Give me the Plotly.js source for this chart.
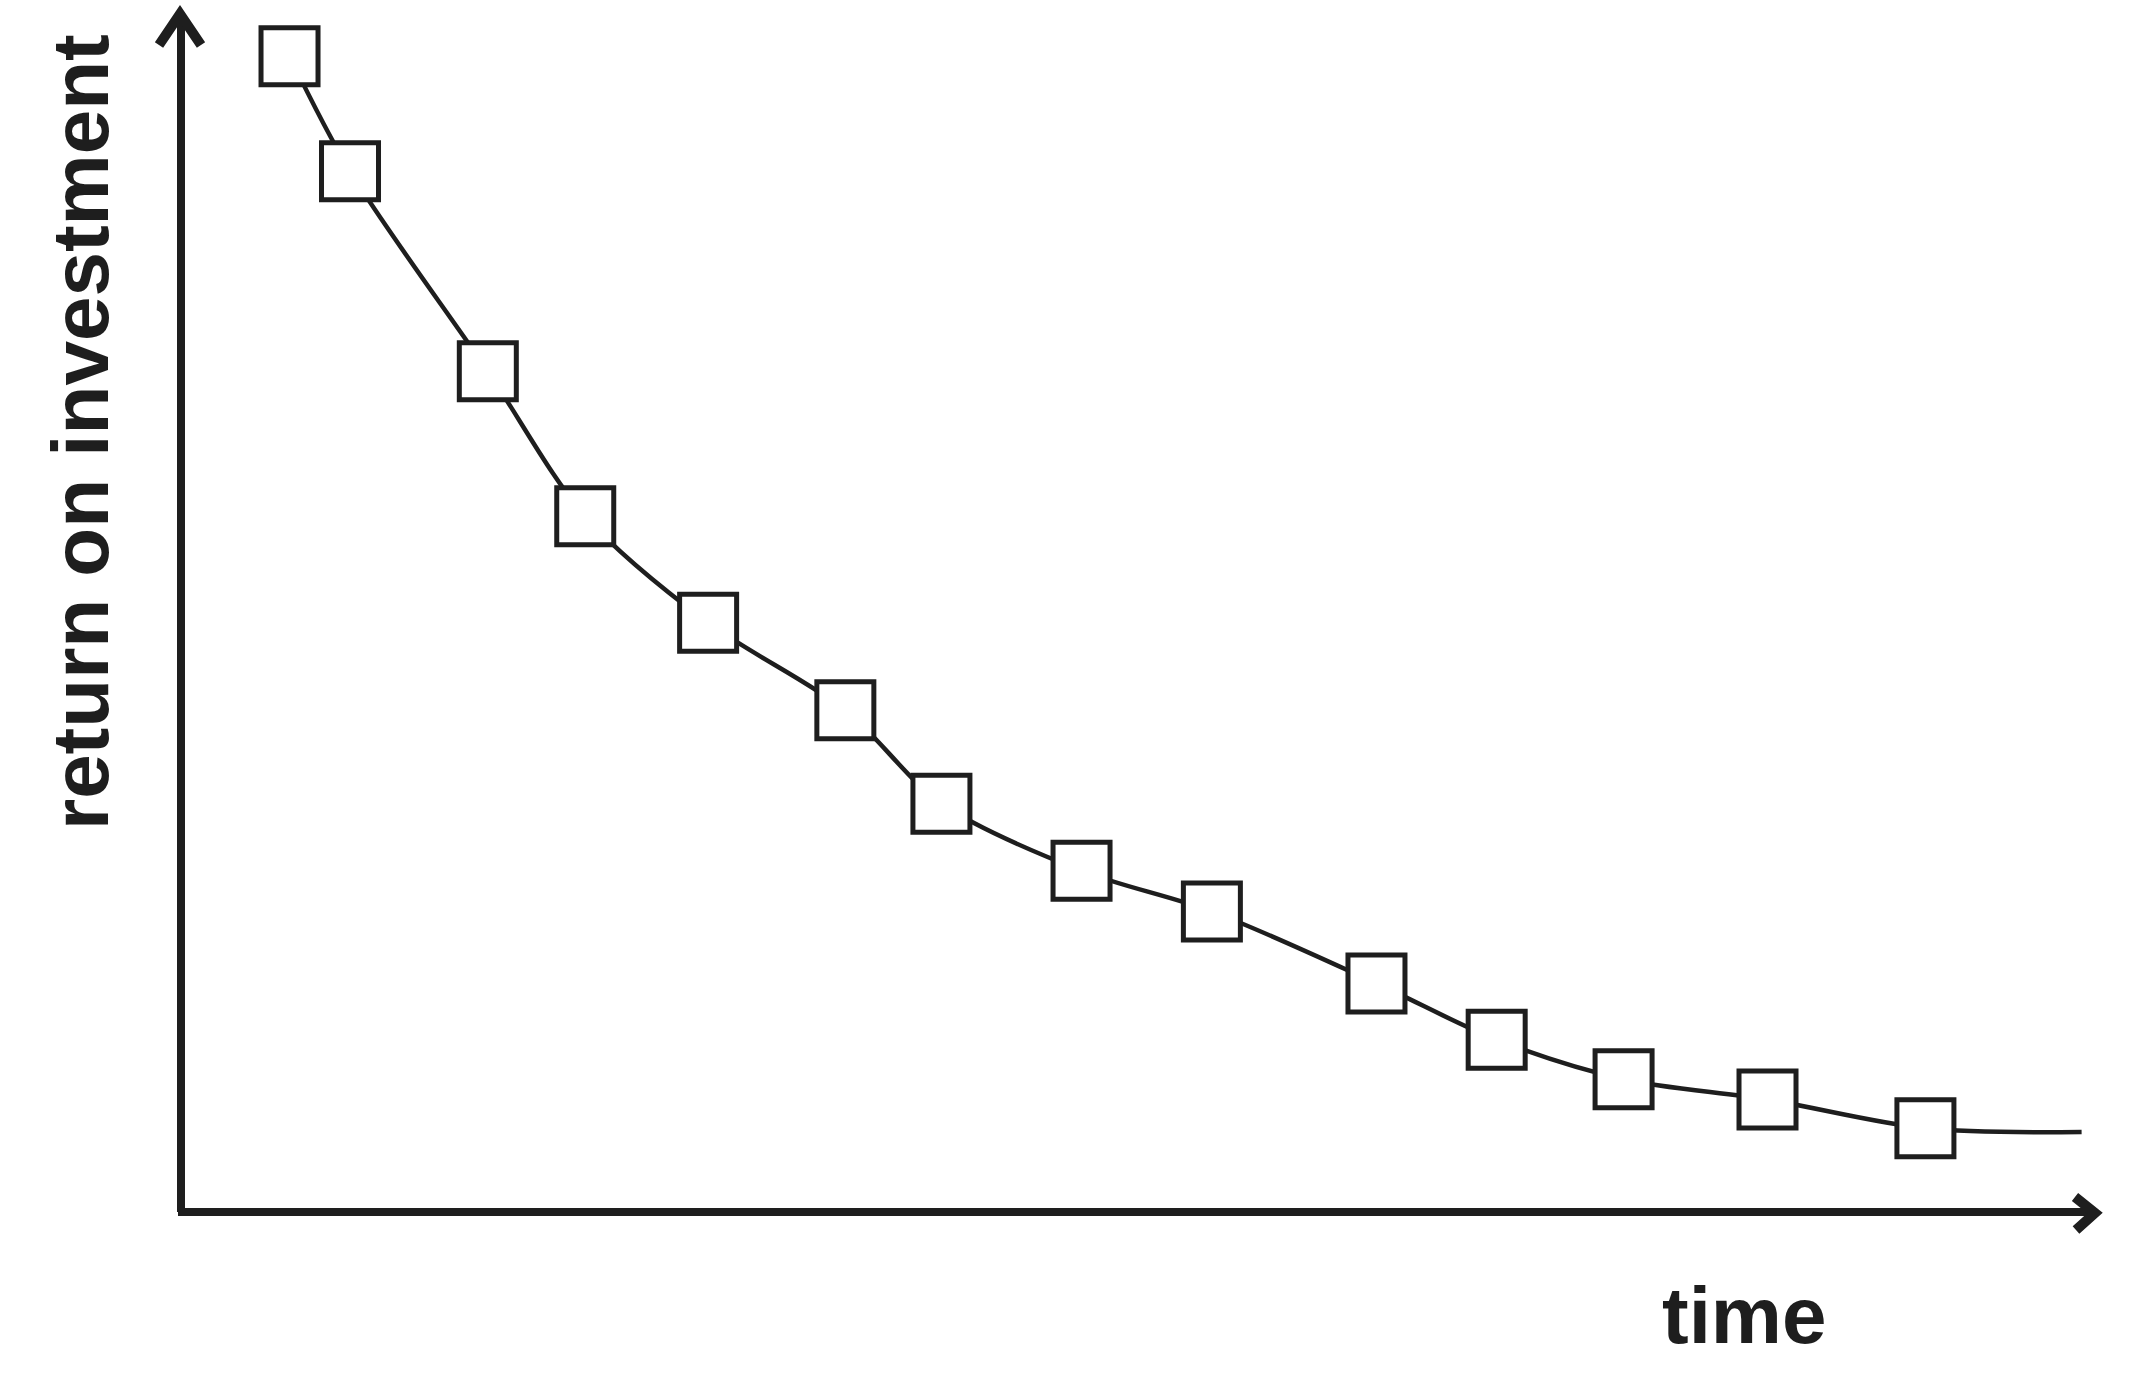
<!DOCTYPE html>
<html>
<head>
<meta charset="utf-8">
<script src="https://cdn.plot.ly/plotly-3.0.1.min.js"></script>
<style>
  html, body { margin: 0; padding: 0; background: #ffffff; }
  #chart { width: 2152px; height: 1373px; }
</style>
</head>
<body>
<div id="chart"></div>
<script>
// ---- data (arbitrary 0-100 units) ----
const time = [5.67, 8.83, 16.03, 21.12, 27.54, 34.71, 39.73, 47.05, 53.86, 62.46, 68.74, 75.37, 82.89, 91.14];
const roi  = [96.4, 86.8, 70.1, 58.0, 49.1, 41.8, 34.0, 28.4, 25.0, 19.0, 14.3, 11.0, 9.3, 6.9];
const curveEndTime = [99.3];
const curveEndRoi  = [6.6];
const xLabel = "time";
const yLabel = "return on investment";

// ---- layout geometry ----
const W = 2152, H = 1373;
const M = { l: 181, r: 57, t: 13, b: 162 };
const PW = W - M.l - M.r, PH = H - M.t - M.b;
const px = v => (v - M.l) / PW;           // pixel x -> paper x
const py = v => (H - M.b - v) / PH;       // pixel y -> paper y

const ink = "#1e1e1e";
const font = { family: "Liberation Sans, Arial, sans-serif", size: 80, color: ink, weight: "bold" };

const curve = {
  x: time.concat(curveEndTime),
  y: roi.concat(curveEndRoi),
  type: "scatter",
  mode: "lines",
  line: { color: ink, width: 4.5, shape: "spline", smoothing: 0.9 },
  hoverinfo: "skip",
  showlegend: false
};
const points = {
  x: time,
  y: roi,
  type: "scatter",
  mode: "markers",
  marker: { symbol: "square", size: 57, color: "#ffffff", line: { color: ink, width: 5 } },
  cliponaxis: false,
  showlegend: false
};

const axisLine = { color: ink, width: 8 };
const layout = {
  width: W, height: H,
  margin: M,
  paper_bgcolor: "#ffffff",
  plot_bgcolor: "#ffffff",
  showlegend: false,
  xaxis: { range: [0, 100], showgrid: false, zeroline: false, showline: false, showticklabels: false, ticks: "", fixedrange: true },
  yaxis: { range: [0, 100], showgrid: false, zeroline: false, showline: false, showticklabels: false, ticks: "", fixedrange: true },
  shapes: [
    // y axis with chevron arrowhead
    { type: "line", xref: "paper", yref: "paper", x0: px(181), y0: py(1212), x1: px(181), y1: py(16), line: axisLine, layer: "below" },
    { type: "path", xref: "paper", yref: "paper",
      path: `M ${px(159)} ${py(45)} L ${px(180)} ${py(14)} L ${px(201)} ${py(45)}`,
      line: { color: ink, width: 10 }, layer: "below" },
    // x axis with chevron arrowhead
    { type: "line", xref: "paper", yref: "paper", x0: px(178), y0: py(1212), x1: px(2092), y1: py(1212), line: axisLine, layer: "below" },
    { type: "path", xref: "paper", yref: "paper",
      path: `M ${px(2075)} ${py(1197)} L ${px(2095)} ${py(1213)} L ${px(2076)} ${py(1230)}`,
      line: { color: ink, width: 10 }, layer: "below" }
  ],
  annotations: [
    { text: yLabel, textangle: -90, xref: "paper", yref: "paper", x: px(80), y: py(432),
      xanchor: "center", yanchor: "middle", showarrow: false, font: font },
    { text: xLabel, xref: "paper", yref: "paper", x: px(1744), y: py(1315),
      xanchor: "center", yanchor: "middle", showarrow: false, font: font }
  ]
};

Plotly.newPlot("chart", [curve, points], layout, { staticPlot: true, displayModeBar: false });
</script>
</body>
</html>
